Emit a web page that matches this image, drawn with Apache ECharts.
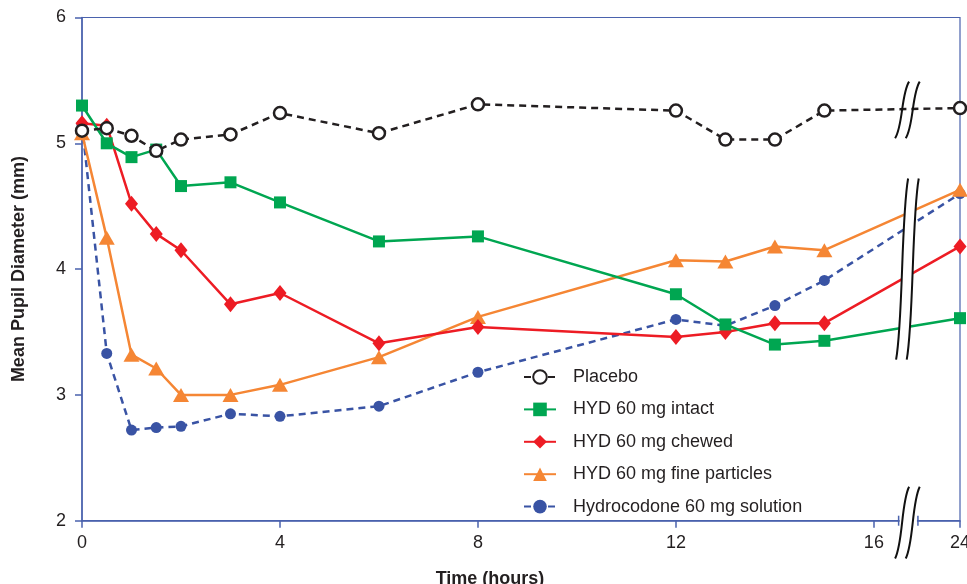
<!DOCTYPE html>
<html><head><meta charset="utf-8">
<script src="https://cdn.jsdelivr.net/npm/echarts@6/dist/echarts.min.js"></script>
<style>html,body{margin:0;padding:0;background:#fff}#c{width:967px;height:584px}</style>
</head><body><div id="c"></div>
<script>
// ---- data ----
const timeHours = [0, 0.5, 1, 1.5, 2, 3, 4, 6, 8, 12, 13, 14, 15, 24];
const placebo     = [5.10, 5.12, 5.06, 4.94, 5.03, 5.07, 5.24, 5.08, 5.31, 5.26, 5.03, 5.03, 5.26, 5.28];
const hydIntact   = [5.30, 5.00, 4.89, 4.95, 4.66, 4.69, 4.53, 4.22, 4.26, 3.80, 3.56, 3.40, 3.43, 3.61];
const hydChewed   = [5.16, 5.14, 4.52, 4.28, 4.15, 3.72, 3.81, 3.41, 3.54, 3.46, 3.50, 3.57, 3.57, 4.18];
const hydFine     = [5.08, 4.25, 3.32, 3.21, 3.00, 3.00, 3.08, 3.30, 3.62, 4.07, 4.06, 4.18, 4.15, 4.63];
const hydSolution = [5.15, 3.33, 2.72, 2.74, 2.75, 2.85, 2.83, 2.91, 3.18, 3.60, 3.55, 3.71, 3.91, 4.60];
const xTickHours = [0, 4, 8, 12, 16, 24];
const seriesNames = ['Placebo', 'HYD 60 mg intact', 'HYD 60 mg chewed', 'HYD 60 mg fine particles', 'Hydrocodone 60 mg solution'];
const xAxisTitle = 'Time (hours)';
const yAxisTitle = 'Mean Pupil Diameter (mm)';

// ---- broken time axis: 16..24 h compressed ----
const BREAK_AT = 16, AFTER_SCALE = 0.2175;
function axisX(h) { return h <= BREAK_AT ? h : BREAK_AT + (h - BREAK_AT) * AFTER_SCALE; }
const xMax = axisX(24);
const tickPos = xTickHours.map(axisX);
function pts(vals) { return timeHours.map((h, i) => [axisX(h), vals[i]]); }

const AX = '#4a62ad';
const FONT = 'Liberation Sans, Arial, Helvetica, sans-serif';

const chart = echarts.init(document.getElementById('c'), null, {renderer: 'canvas'});
chart.setOption({
  animation: false,
  backgroundColor: '#fff',
  textStyle: {fontFamily: FONT},
  grid: {left: 82, right: 7, top: 17.5, bottom: 63.3, outerBoundsMode: 'none', containLabel: false,
         show: true, borderColor: AX, borderWidth: 1.2, backgroundColor: 'transparent'},
  legend: {
    orient: 'vertical', left: 518, top: 363,
    itemWidth: 32, itemHeight: 17, itemGap: 14.4,
    data: seriesNames,
    textStyle: {fontSize: 18, color: '#231f20', fontFamily: FONT, padding: [0, 0, 0, 12]}
  },
  xAxis: {
    type: 'value', min: 0, max: xMax,
    name: xAxisTitle, nameLocation: 'middle', nameGap: 49,
    nameTextStyle: {fontSize: 18, fontWeight: 'bold', color: '#231f20', padding: [0, 62, 0, 0]},
    axisLine: {show: true, lineStyle: {color: AX, width: 1.5}},
    axisTick: {show: true, customValues: tickPos, length: 7, lineStyle: {color: AX, width: 1.5}},
    axisLabel: {customValues: tickPos, margin: 13, fontSize: 18, color: '#231f20',
      formatter: v => { const i = tickPos.findIndex(p => Math.abs(p - v) < 1e-6); return i >= 0 ? String(xTickHours[i]) : ''; }},
    splitLine: {show: false}
  },
  yAxis: {
    type: 'value', min: 2, max: 6, interval: 1,
    name: yAxisTitle, nameLocation: 'middle', nameGap: 54,
    nameTextStyle: {fontSize: 18, fontWeight: 'bold', color: '#231f20'},
    axisLine: {show: true, lineStyle: {color: AX, width: 1.5}},
    axisTick: {show: true, length: 7, lineStyle: {color: AX, width: 1.5}},
    axisLabel: {margin: 16, fontSize: 18, color: '#231f20'},
    splitLine: {show: false}
  },
  series: [
    {name: seriesNames[4], type: 'line', data: pts(hydSolution), z: 2,
     symbol: 'circle', symbolSize: 11, itemStyle: {color: '#3953a4'},
     lineStyle: {color: '#3953a4', width: 2.5, type: [7, 5]}},
    {name: seriesNames[3], type: 'line', data: pts(hydFine), z: 3,
     symbol: 'triangle', symbolSize: [16, 14], itemStyle: {color: '#f58634'},
     lineStyle: {color: '#f58634', width: 2.5}},
    {name: seriesNames[2], type: 'line', data: pts(hydChewed), z: 4,
     symbol: 'diamond', symbolSize: [13, 16], itemStyle: {color: '#ed1c24'},
     lineStyle: {color: '#ed1c24', width: 2.5}},
    {name: seriesNames[1], type: 'line', data: pts(hydIntact), z: 5,
     symbol: 'rect', symbolSize: 12, itemStyle: {color: '#00a651'},
     lineStyle: {color: '#00a651', width: 2.5}},
    {name: seriesNames[0], type: 'line', data: pts(placebo), z: 6,
     symbol: 'circle', symbolSize: 12, itemStyle: {color: '#fff', borderColor: '#231f20', borderWidth: 2.5},
     lineStyle: {color: '#231f20', width: 2.5, type: [7, 5]}}
  ]
});

// ---- axis-break decorations, positioned through the grid's own scale ----
function px(x, y) { return chart.convertToPixel({gridIndex: 0}, [x, y]); }
const cA = BREAK_AT + 0.57, cB = BREAK_AT + 0.785;
function bez(p0, p1, p2, p3, t) {
  const u = 1 - t;
  return [u*u*u*p0[0] + 3*u*u*t*p1[0] + 3*u*t*t*p2[0] + t*t*t*p3[0],
          u*u*u*p0[1] + 3*u*u*t*p1[1] + 3*u*t*t*p2[1] + t*t*t*p3[1]];
}
function curvePts(cx, yTop, yBot, hook) {
  const t = px(cx, yTop), b = px(cx, yBot);
  const h = b[1] - t[1], x = t[0];
  return [[x + hook, t[1]], [x - 1, t[1] + 0.22 * h], [x + 1, b[1] - 0.22 * h], [x - hook, b[1]]];
}
function breakGroup(yTop, yBot, hook, fill) {
  const a = curvePts(cA, yTop, yBot, hook), b = curvePts(cB, yTop, yBot, hook);
  const els = [];
  if (fill) {
    const poly = [];
    for (let i = 0; i <= 24; i++) poly.push(bez(a[0], a[1], a[2], a[3], i / 24));
    for (let i = 24; i >= 0; i--) poly.push(bez(b[0], b[1], b[2], b[3], i / 24));
    els.push({type: 'polygon', z: 50, shape: {points: poly}, style: {fill: '#fff', stroke: '#fff', lineWidth: 1}});
  }
  [a, b].forEach(c => els.push({type: 'bezierCurve', z: 51,
    shape: {x1: c[0][0], y1: c[0][1], cpx1: c[1][0], cpy1: c[1][1], cpx2: c[2][0], cpy2: c[2][1], x2: c[3][0], y2: c[3][1]},
    style: {fill: null, stroke: '#111', lineWidth: 2}}));
  return els;
}
const g = [];
// gap in the time axis line between the two break ticks
const tk1 = px(BREAK_AT + 0.5, 2), tk2 = px(BREAK_AT + 0.89, 2);
g.push({type: 'rect', z: 49, shape: {x: tk1[0] + 1, y: tk1[1] - 2, width: tk2[0] - tk1[0] - 2, height: 4}, style: {fill: '#fff'}});
g.push(...breakGroup(5.49, 5.04, 7, false));
g.push(...breakGroup(4.72, 3.28, 6, true));
g.push(...breakGroup(2.27, 1.70, 7, true));
[tk1, tk2].forEach(p => {
  g.push({type: 'line', z: 52, shape: {x1: p[0], y1: p[1] - 5, x2: p[0], y2: p[1] + 5}, style: {stroke: AX, lineWidth: 1.5}});
});
chart.setOption({graphic: g});
</script>
</body></html>
